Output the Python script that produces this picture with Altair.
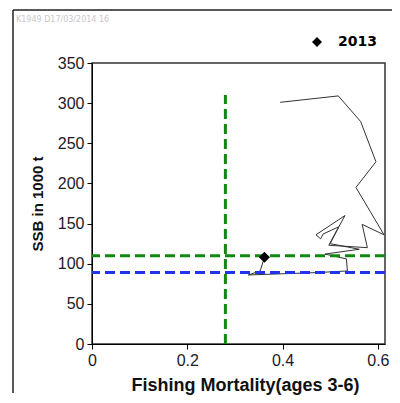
import altair as alt
import pandas as pd

# Trajectory of SSB vs F (chronological, last point = 2013)
f_vals = [0.395, 0.517, 0.564, 0.596, 0.554, 0.613, 0.567, 0.578, 0.497, 0.531,
          0.470, 0.480, 0.485, 0.518, 0.500, 0.561, 0.489, 0.534, 0.536, 0.475,
          0.328, 0.353, 0.362]
ssb_vals = [301, 309, 277, 227, 195, 136, 149, 120, 123, 160,
            136, 131, 137, 146, 125, 118, 112, 106, 91, 89,
            86, 91, 108]

last_year = ["2013"]
last_f = [0.362]
last_ssb = [108]

f_ref = [0.28]
f_ref_top = [310]
ssb_green = [110]
ssb_blue = [89]

x_ticks = [0, 0.2, 0.4, 0.6]
y_ticks = [0, 50, 100, 150, 200, 250, 300, 350]

traj = pd.DataFrame({"F": f_vals, "SSB": ssb_vals, "i": list(range(len(f_vals)))})
pt = pd.DataFrame({"F": last_f, "SSB": last_ssb, "year": last_year})
vref = pd.DataFrame({"F": f_ref, "y0": [0], "y1": f_ref_top})
hg = pd.DataFrame({"SSB": ssb_green})
hb = pd.DataFrame({"SSB": ssb_blue})

xs = alt.Scale(domain=[0, 0.615], nice=False, zero=False)
ys = alt.Scale(domain=[0, 350], nice=False)

xax = alt.Axis(values=x_ticks, format=".1~f", title="Fishing Mortality(ages 3-6)",
               labelFlush=False, titleFontSize=18, titleX=153, titleAlign="center")
yax = alt.Axis(values=y_ticks, title="SSB in 1000 t", labelFlush=False)

line = alt.Chart(traj).mark_line(color="#333333", strokeWidth=1).encode(
    x=alt.X("F:Q", scale=xs, axis=xax),
    y=alt.Y("SSB:Q", scale=ys, axis=yax),
    order="i:Q",
)

dash = [10, 5]
vrule = alt.Chart(vref).mark_rule(color="#118811", strokeWidth=3, strokeDash=dash).encode(
    x=alt.X("F:Q", scale=xs),
    y=alt.Y("y0:Q", scale=ys),
    y2="y1:Q",
)
grule = alt.Chart(hg).mark_rule(color="#118811", strokeWidth=3, strokeDash=dash).encode(
    y=alt.Y("SSB:Q", scale=ys),
)
brule = alt.Chart(hb).mark_rule(color="#2233ee", strokeWidth=3, strokeDash=dash).encode(
    y=alt.Y("SSB:Q", scale=ys),
)

point = alt.Chart(pt).mark_point(filled=True, color="black", size=121, opacity=1).encode(
    x=alt.X("F:Q", scale=xs),
    y=alt.Y("SSB:Q", scale=ys),
    shape=alt.Shape("year:N", scale=alt.Scale(domain=last_year, range=["diamond"]),
                    legend=alt.Legend(title=None, orient="none", legendX=218, legendY=-28,
                                      symbolSize=100, symbolFillColor="black",
                                      symbolStrokeColor="black", labelFont="DejaVu Sans",
                                      labelFontWeight="bold", labelFontSize=14,
                                      labelColor="black", labelOffset=14, padding=0)),
)

wm = alt.Chart(pd.DataFrame({"t": ["K1949  D17/03/2014  16"]})).mark_text(
    align="left", baseline="middle", fontSize=8, color="#c8c8c8", font="DejaVu Sans"
).encode(x=alt.value(-76), y=alt.value(-43), text="t:N")

border_l = alt.Chart(pd.DataFrame({"a": [0]})).mark_rule(color="#222", strokeWidth=1.5).encode(
    x=alt.value(-79), y=alt.value(-53), y2=alt.value(330))
border_t = alt.Chart(pd.DataFrame({"a": [0]})).mark_rule(color="#222", strokeWidth=1.5).encode(
    x=alt.value(-79), x2=alt.value(320), y=alt.value(-53))

chart = alt.layer(line, vrule, grule, brule, point, wm, border_l, border_t).properties(
    width=293, height=281,
    autosize=alt.AutoSizeParams(type="none"),
    padding={"left": 84, "top": 55, "right": 7, "bottom": 51},
).configure_view(stroke="#333333", strokeWidth=1.5).configure_axis(
    grid=False, domainColor="black", tickColor="black", tickSize=5,
    labelFont="Liberation Sans", labelFontSize=16, labelColor="#1a1a2a",
    titleFont="Liberation Sans", titleFontSize=15, titleFontWeight="bold", titleColor="#111",
    labelPadding=3,
).configure_axisX(titlePadding=8).configure_axisY(titlePadding=12)

chart.save("out.html", embed_options={"renderer": "svg", "actions": False})
